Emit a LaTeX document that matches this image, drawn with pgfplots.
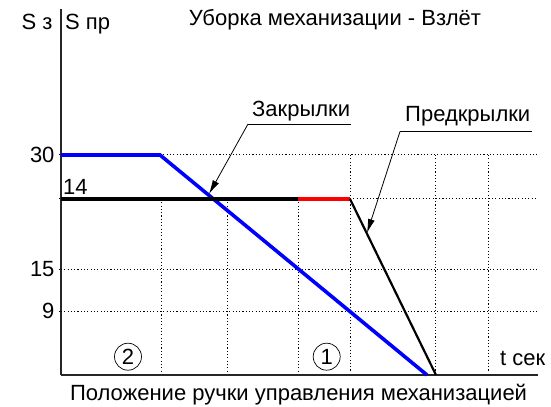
\documentclass[border=0pt]{standalone}
\usepackage{fontspec}
\setmainfont{Liberation Sans}
\usepackage{pgfplots}
\pgfplotsset{compat=1.18}
\usetikzlibrary{arrows.meta}

% coordinates are in reference pixels: x to the right, y up from the time axis
\begin{document}
\begin{tikzpicture}[font=\fontsize{22bp}{25bp}\selectfont,
  gridline/.style={line width=1pt,dash pattern=on 1.1bp off 2.2bp}]
\begin{axis}[scale only axis,width=477bp,height=366bp,
  xmin=61,xmax=538,ymin=0,ymax=366,clip=false,
  axis lines=left,axis line style={-,line width=1.4pt,black!85},
  xtick=\empty,ytick={220,176,106,64},yticklabels={30,,15,9},
  tick align=outside,major tick length=2bp,tick style={black,line width=1pt},
  yticklabel style={font=\fontsize{22bp}{25bp}\selectfont,xshift=-1bp},
  /pgf/number format/assume math mode=true]
% grid
\draw[gridline] (axis cs:160,220)--(axis cs:538,220);
\draw[gridline] (axis cs:350,176)--(axis cs:538,176);
\draw[gridline] (axis cs:61,106)--(axis cs:538,106);
\draw[gridline] (axis cs:61,64)--(axis cs:538,64);
\foreach \gx in {161,227,298} {\edef\tmp{\noexpand\draw[gridline] (axis cs:\gx,176)--(axis cs:\gx,4);}\tmp}
\foreach \gx in {350,435,488} {\edef\tmp{\noexpand\draw[gridline] (axis cs:\gx,220)--(axis cs:\gx,4);}\tmp}
% flaps
\addplot[blue,line width=3.6pt] coordinates {(61,220)(160,220)(427,0)};
% slats
\addplot[black,line width=3.2pt] coordinates {(61,176)(298,176)};
\addplot[red,line width=3.2pt] coordinates {(298,176)(350,176)};
\addplot[black,line width=2.2pt] coordinates {(350,176)(436,0)};
% callouts
\draw[line width=0.8pt] (axis cs:351,251)--(axis cs:248,251);
\draw[line width=0.8pt,-{Latex[length=14bp,width=7bp]}] (axis cs:248,251)--(axis cs:209,181);
\node[anchor=base west,inner sep=0pt] at (axis cs:252,258) {Закрылки};
\draw[line width=0.8pt] (axis cs:532,243.5)--(axis cs:400,243.5);
\draw[line width=0.8pt,-{Latex[length=14bp,width=7bp]}] (axis cs:400,243.5)--(axis cs:367,142);
\node[anchor=base west,inner sep=0pt] at (axis cs:405,253) {Предкрылки};
% labels
\node[anchor=base west,inner sep=0pt] at (axis cs:63,180) {14};
\node[anchor=base,inner sep=0pt] at (axis cs:37,345) {S з};
\node[anchor=base west,inner sep=0pt] at (axis cs:65,345) {S пр};
\node[anchor=base,inner sep=0pt] at (axis cs:335,349) {Уборка механизации - Взлёт};
\node[draw,circle,line width=0.7pt,minimum size=27bp,inner sep=0pt] at (axis cs:128,18.3) {2};
\node[draw,circle,line width=0.7pt,minimum size=27bp,inner sep=0pt] at (axis cs:326.7,18.3) {1};
\node[anchor=base west,inner sep=0pt] at (axis cs:500,9.3) {t сек};
\node[anchor=base,inner sep=0pt] at (axis cs:298.5,-25) {Положение ручки управления механизацией};
\path (axis cs:0,-32) rectangle (axis cs:551,375);
\end{axis}
\end{tikzpicture}
\end{document}
